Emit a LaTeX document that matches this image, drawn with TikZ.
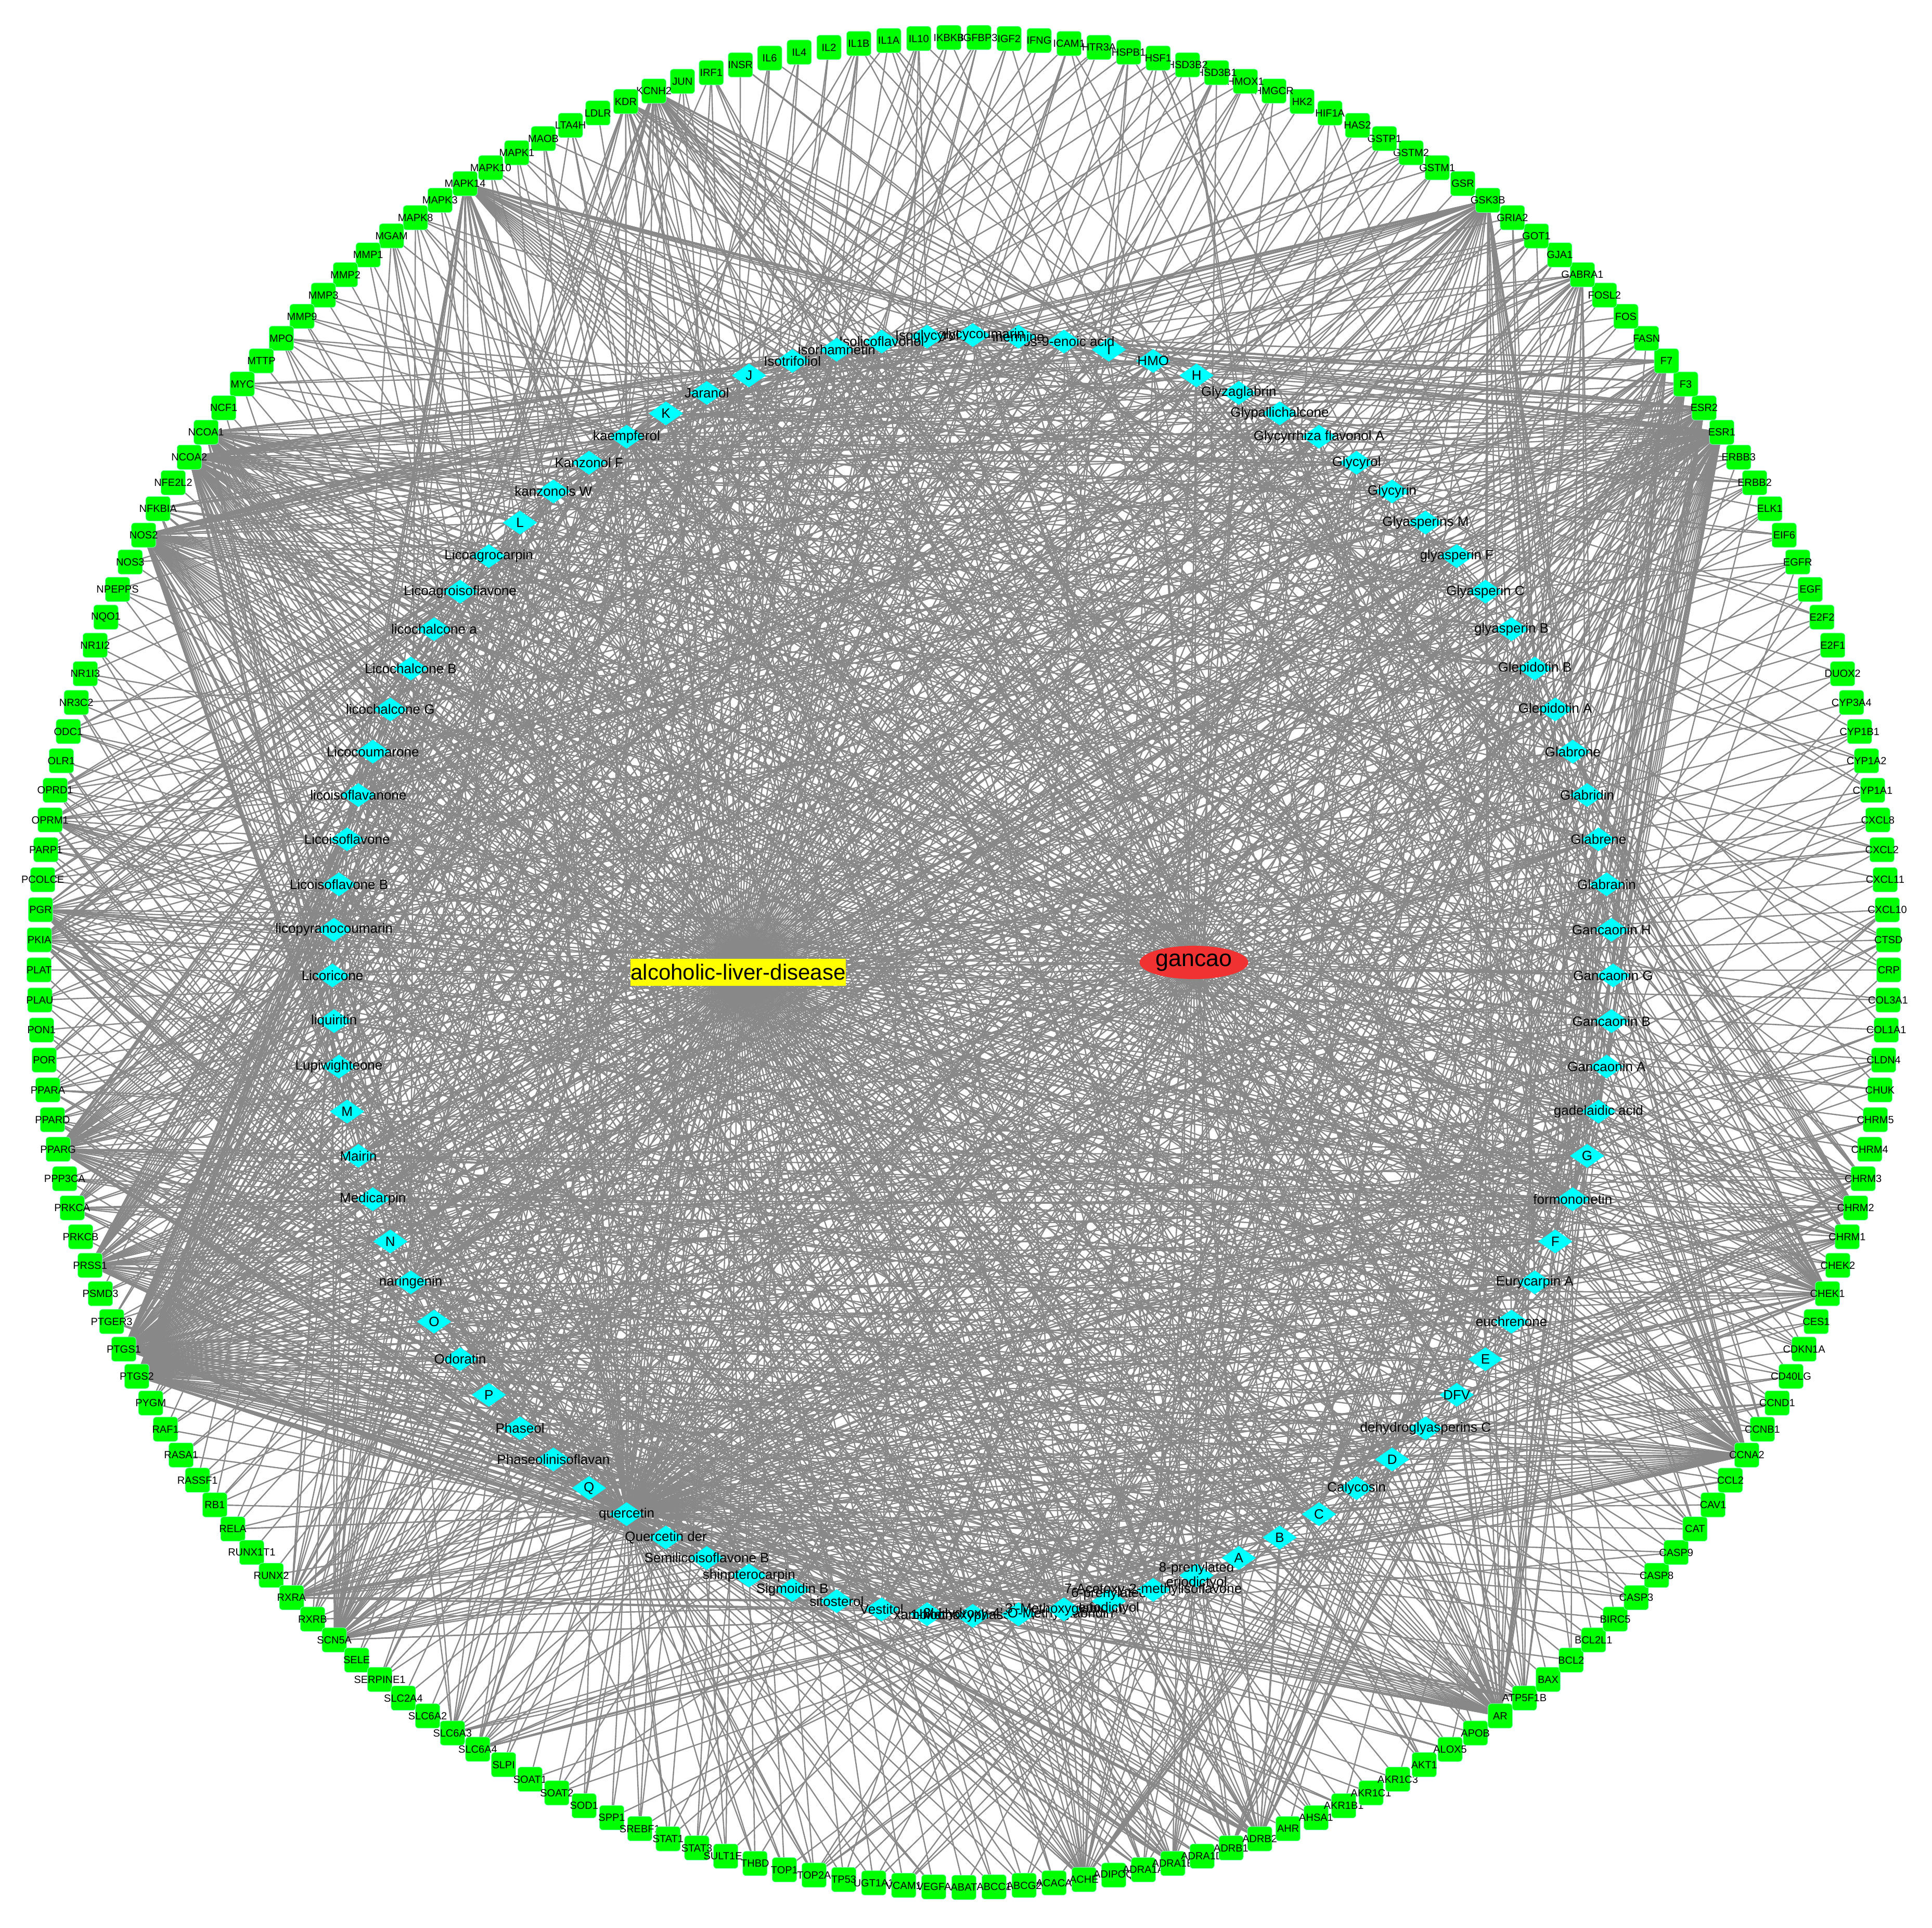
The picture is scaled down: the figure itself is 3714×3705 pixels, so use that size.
\documentclass[tikz,border=0pt]{standalone}
\usepackage{fontspec}
\setmainfont{Liberation Sans}
\usetikzlibrary{shapes.geometric,backgrounds}
\definecolor{edgegray}{RGB}{136,136,136}
\definecolor{tgreen}{RGB}{0,255,0}
\definecolor{tgreenedge}{RGB}{110,255,170}
\definecolor{ccyan}{RGB}{0,255,255}
\definecolor{gred}{RGB}{240,50,50}
\definecolor{ayellow}{RGB}{255,255,0}
\tikzset{
  link/.style={draw=edgegray, line width=2.4pt},
  gbox/.style={fill=tgreen, draw=tgreenedge, line width=1pt, rounded corners=6pt, minimum width=47pt, minimum height=47pt, inner sep=0pt},
  glab/.style={font=\fontsize{20}{20}\selectfont, inner sep=0pt, text=black},
  cdiam/.style={diamond, fill=ccyan, draw=none, minimum width=66pt, minimum height=46pt, inner sep=0pt},
  clab/.style={font=\fontsize{26}{28}\selectfont, inner sep=0pt, text=black, align=center},
  hubald/.style={fill=ayellow, inner sep=0pt, font=\fontsize{42}{42}\selectfont, minimum height=52pt, minimum width=412pt},
  hubgan/.style={ellipse, fill=gred, minimum width=194pt, minimum height=64pt, inner sep=0pt, font=\fontsize{45}{45}\selectfont}
}
\begin{document}
\begin{tikzpicture}[x=1pt,y=1pt]
\useasboundingbox (0,0) rectangle (3714,3705);
\def\gcx{1853}\def\gcy{1855}\def\gradius{1778}
\def\ccx{1870}\def\ccy{1830}\def\cradius{1231}
\foreach \nm [count=\i from 0] in {ABAT,ABCC1,ABCG2,ACACA,ACHE,ADIPOQ,ADRA1A,ADRA1B,ADRA1D,ADRB1,ADRB2,AHR,AHSA1,AKR1B1,AKR1C1,AKR1C3,AKT1,ALOX5,APOB,AR,ATP5F1B,%
BAX,BCL2,BCL2L1,BIRC5,CASP3,CASP8,CASP9,CAT,CAV1,CCL2,CCNA2,CCNB1,CCND1,CD40LG,CDKN1A,CES1,CHEK1,CHEK2,CHRM1,CHRM2,CHRM3,CHRM4,CHRM5,CHUK,CLDN4,COL1A1,COL3A1,CRP,CTSD,%
CXCL10,CXCL11,CXCL2,CXCL8,CYP1A1,CYP1A2,CYP1B1,CYP3A4,DUOX2,E2F1,E2F2,EGF,EGFR,EIF6,ELK1,ERBB2,ERBB3,ESR1,ESR2,F3,F7,FASN,FOS,FOSL2,GABRA1,GJA1,GOT1,GRIA2,GSK3B,GSR,%
GSTM1,GSTM2,GSTP1,HAS2,HIF1A,HK2,HMGCR,HMOX1,HSD3B1,HSD3B2,HSF1,HSPB1,HTR3A,ICAM1,IFNG,IGF2,IGFBP3,IKBKB,IL10,IL1A,IL1B,IL2,IL4,IL6,INSR,IRF1,JUN,KCNH2,KDR,LDLR,LTA4H,%
MAOB,MAPK1,MAPK10,MAPK14,MAPK3,MAPK8,MGAM,MMP1,MMP2,MMP3,MMP9,MPO,MTTP,MYC,NCF1,NCOA1,NCOA2,NFE2L2,NFKBIA,NOS2,NOS3,NPEPPS,NQO1,NR1I2,NR1I3,NR3C2,ODC1,OLR1,OPRD1,OPRM1,%
PARP1,PCOLCE,PGR,PKIA,PLAT,PLAU,PON1,POR,PPARA,PPARD,PPARG,PPP3CA,PRKCA,PRKCB,PRSS1,PSMD3,PTGER3,PTGS1,PTGS2,PYGM,RAF1,RASA1,RASSF1,RB1,RELA,RUNX1T1,RUNX2,RXRA,RXRB,%
SCN5A,SELE,SERPINE1,SLC2A4,SLC6A2,SLC6A3,SLC6A4,SLPI,SOAT1,SOAT2,SOD1,SPP1,SREBF1,STAT1,STAT3,SULT1E1,THBD,TOP1,TOP2A,TP53,UGT1A1,VCAM1,VEGFA} {
  \pgfmathsetmacro\ang{270+\i*1.8652850}
  \path (\gcx,\gcy) ++(\ang:\gradius) node[gbox] (g\i) {} node[glab] (gl\i) {\nm};
}
\foreach \nm [count=\k from 0] in {Licoricone,liquiritin,Lupiwighteone,M,Mairin,Medicarpin,N,naringenin,O,Odoratin,P,Phaseol,Phaseolinisoflavan,Q,quercetin,Quercetin der,%
Semilicoisoflavone B,shinpterocarpin,Sigmoidin B,sitosterol,Vestitol,xambioona,1-Methoxyphaseollin,3'-Hydroxy-4'-O-Methylglabridin,3'-Methoxyglabridin,%
6-prenylated\\eriodictyol,7-Acetoxy-2-methylisoflavone,8-prenylated\\eriodictyol,A,B,C,Calycosin,D,dehydroglyasperins C,DFV,E,euchrenone,Eurycarpin A,F,formononetin,G,%
gadelaidic acid,Gancaonin A,Gancaonin B,Gancaonin G,Gancaonin H,Glabranin,Glabrene,Glabridin,Glabrone,Glepidotin A,Glepidotin B,glyasperin B,Glyasperin C,glyasperin F,%
Glyasperins M,Glycyrin,Glycyrol,Glycyrrhiza flavonol A,Glypallichalcone,Glyzaglabrin,H,HMO,I,icos-9-enoic acid,inermine,isoglycycoumarin,Isoglycyrol,Isolicoflavonol,%
isorhamnetin,Isotrifoliol,J,Jaranol,K,kaempferol,Kanzonol F,kanzonols W,L,Licoagrocarpin,Licoagroisoflavone,licochalcone a,Licochalcone B,licochalcone G,Licocoumarone,%
licoisoflavanone,Licoisoflavone,Licoisoflavone B,licopyranocoumarin} {
  \pgfmathsetmacro\ang{180+\k*4.0909091}
  \path (\ccx,\ccy) ++(\ang:\cradius) node[cdiam] (c\k) {} node[clab] (cl\k) {\nm};
}
\node[hubald] (ald) at (1419,1836) {alcoholic-liver-disease};
\node[hubgan] (gancao) at (2295,1855) {gancao};
\begin{pgfonlayer}{background}
\foreach \i in {0,...,192}{\draw[link] (ald.center) -- (g\i.center);}
\foreach \k in {0,...,87}{\draw[link] (gancao.center) -- (c\k.center);}
\pgfmathsetseed{20231}
\foreach \h/\p in {159/0.95,158/0.9,155/0.6,151/0.6,130/0.8,127/0.7,126/0.35,114/0.55,107/0.35,108/0.2,78/0.55,70/0.4,68/0.45,67/0.7,37/0.55,39/0.3,40/0.2,31/0.6,19/0.6,10/0.4,7/0.2,4/0.35,170/0.55,168/0.25,143/0.3,144/0.25,74/0.25,153/0.2,140/0.12,139/0.12,41/0.12,69/0.2,6/0.12,9/0.12,176/0.12,175/0.12,20/0.15,188/0.1,150/0.1,149/0.1,129/0.1}{
  \foreach \k in {0,...,87}{
    \pgfmathtruncatemacro\flag{rnd<\p}
    \ifnum\flag=1 \draw[link] (c\k.center) -- (g\h.center);\fi
  }
}
\foreach \i in {0,...,192}{
  \pgfmathtruncatemacro\flag{rnd<0.65}
  \ifnum\flag=1 \draw[link] (c14.center) -- (g\i.center);\fi
  \pgfmathtruncatemacro\flag{rnd<0.2}
  \ifnum\flag=1 \draw[link] (c74.center) -- (g\i.center);\fi
  \pgfmathtruncatemacro\flag{rnd<0.12}
  \ifnum\flag=1 \draw[link] (c7.center) -- (g\i.center);\fi
  \pgfmathtruncatemacro\flag{rnd<0.12}
  \ifnum\flag=1 \draw[link] (c39.center) -- (g\i.center);\fi
  \pgfmathtruncatemacro\flag{rnd<0.1}
  \ifnum\flag=1 \draw[link] (c69.center) -- (g\i.center);\fi
  \pgfmathtruncatemacro\flag{rnd<0.4}
  \ifnum\flag=1 \pgfmathrandominteger{\rk}{0}{87}\draw[link] (c\rk.center) -- (g\i.center);\fi
}
\foreach \k in {0,...,87}{
  \foreach \n in {1,2,3}{
    \pgfmathrandominteger{\rg}{0}{192}
    \draw[link] (c\k.center) -- (g\rg.center);
  }
}
\end{pgfonlayer}
\end{tikzpicture}
\end{document}
